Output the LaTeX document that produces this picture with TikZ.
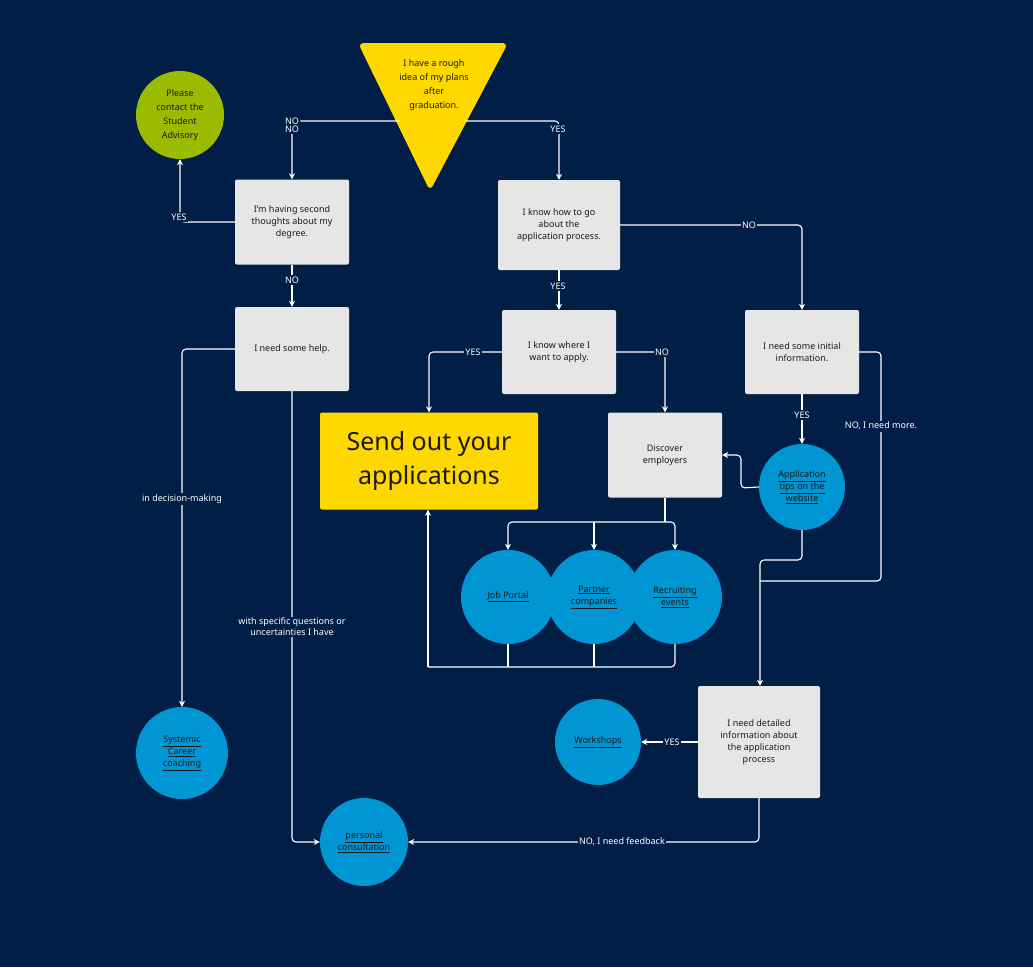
\documentclass[tikz,border=0pt]{standalone}
\usepackage{fontspec}
\setmainfont{Noto Sans}
\usetikzlibrary{arrows.meta}
\definecolor{navy}{HTML}{001E46}
\definecolor{boxg}{HTML}{E6E6E6}
\definecolor{yel}{HTML}{FFD800}
\definecolor{grn}{HTML}{9BBB00}
\definecolor{blu}{HTML}{0095D3}
\definecolor{txt}{HTML}{1A1A1A}
\newcommand{\ul}[1]{\underline{#1}}
\begin{document}
\begin{tikzpicture}[x=1pt,y=-1pt,
  gbox/.style={fill=boxg,rounded corners=2pt,font=\fontsize{9}{12}\selectfont,text=txt,align=center,inner sep=0pt},
  bcirc/.style={circle,fill=blu,font=\fontsize{9}{12}\selectfont,text=txt,align=center,inner sep=0pt},
  arr/.style={draw=white,line width=1.1pt,-{Stealth[length=6pt,width=6pt]},rounded corners=4pt},
  ln/.style={draw=white,line width=1.1pt,rounded corners=4pt},
  lab/.style={fill=navy,text=white,font=\fontsize{9}{11}\selectfont,inner sep=1.5pt,align=center}]
\fill[navy] (0,0) rectangle (1033,967);
\useasboundingbox (0,0) rectangle (1033,967);
% triangle
\fill[yel,rounded corners=6pt] (358,43) -- (508,43) -- (430,191) -- cycle;
\node[font=\fontsize{9}{14}\selectfont,text=txt,align=center] (tri) at (434,85) {I have a rough\\idea of my plans\\after\\graduation.};
\coordinate (tl) at (400,121);
\coordinate (tr) at (466,121);
% green
\node[circle,fill=grn,minimum size=88pt,font=\fontsize{9}{14}\selectfont,text=txt,align=center,inner sep=0pt] (adv) at (180,115) {Please\\contact the\\Student\\Advisory};
% boxes
\node[gbox,minimum width=114pt,minimum height=85pt] (A) at (292,222) {I'm having second\\thoughts about my\\degree.};
\node[gbox,minimum width=122pt,minimum height=90pt] (B) at (559,225) {I know how to go\\about the\\application process.};
\node[gbox,minimum width=114pt,minimum height=84pt] (C) at (292,349) {I need some help.};
\node[gbox,minimum width=114pt,minimum height=84pt] (D) at (559,352) {I know where I\\want to apply.};
\node[gbox,minimum width=114pt,minimum height=84pt] (E) at (802,352) {I need some initial\\information.};
\node[gbox,minimum width=114pt,minimum height=85pt] (F) at (665,455) {Discover\\employers};
\node[gbox,minimum width=122pt,minimum height=112pt] (G) at (759,742) {I need detailed\\information about\\the application\\process};
\node[fill=yel,rounded corners=2pt,minimum width=218pt,minimum height=97pt,font=\bfseries\fontsize{25}{34}\selectfont,text=txt,align=center] (S) at (429,461) {Send out your\\applications};
% circles
\node[bcirc,minimum size=86pt] (T) at (802,487) {\ul{Application}\\\ul{tips on the}\\\ul{website}};
\node[bcirc,minimum size=94pt] (J1) at (508,597) {\ul{Job Portal}};
\node[bcirc,minimum size=94pt] (J2) at (594,597) {\ul{Partner}\\\ul{companies}};
\node[bcirc,minimum size=94pt] (J3) at (675,597) {\ul{Recruiting}\\\ul{events}};
\node[bcirc,minimum size=86pt] (W) at (598,742) {\ul{Workshops}};
\node[bcirc,minimum size=92pt] (SC) at (182,753) {\ul{Systemic}\\\ul{Career}\\\ul{coaching}};
\node[bcirc,minimum size=88pt] (P) at (364,842) {\ul{personal}\\\ul{consultation}};
% connectors
\draw[arr] (tl) -| (A.north) node[lab,pos=0.5] (l1) at (292,129) {NO};
\node[lab] at (292,129) {NO};
\draw[arr] (tr) -| (B.north);
\node[lab] at (558,129) {YES};
\draw[arr] (A.west) -| (adv.south);
\node[lab] at (179,217) {YES};
\draw[arr] (A.south) -- (C.north);
\node[lab] at (292,280) {NO};
\draw[arr] (B.south) -- (D.north);
\node[lab] at (558,286) {YES};
\draw[arr] (B.east) -| (E.north);
\node[lab] at (749,225) {NO};
\draw[arr] (D.west) -| (S.north);
\node[lab] at (473,352) {YES};
\draw[arr] (D.east) -| (F.north);
\node[lab] at (662,352) {NO};
\draw[arr] (E.south) -- (T.north);
\node[lab] at (802,415) {YES};
\draw[ln] (E.east) -- (881,352) -- (881,581) -- (760,581);
\node[lab] at (881,426) {NO, I need more.};
\draw[arr] (T.south) -- (802,560) -- (760,560) -- (G.north-|760,0);
\draw[arr] (T.west) -- (741,488) -- (741,455) -- (F.east);
\draw[ln] (F.south) -- (665,522);
\draw[arr] (665,522) -- (508,522) -- (J1.north);
\draw[arr] (594,522) -- (J2.north);
\draw[arr] (665,522) -- (675,522) -- (J3.north);
\draw[ln] (J1.south) -- (508,667);
\draw[ln] (J2.south) -- (594,667);
\draw[ln] (J3.south) -- (675,667) -- (428,667);
\draw[arr] (428,667) -- (S.south-|428,0);
\draw[arr] (C.west) -| (SC.north);
\node[lab] at (182,499) {in decision-making};
\draw[arr] (C.south) |- (P.west);
\node[lab] at (292,627) {with specific questions or\\uncertainties I have};
\draw[arr] (G.west) -- (W.east);
\node[lab] at (672,742) {YES};
\draw[arr] (G.south) |- (P.east);
\node[lab] at (622,842) {NO, I need feedback};
\end{tikzpicture}
\end{document}
